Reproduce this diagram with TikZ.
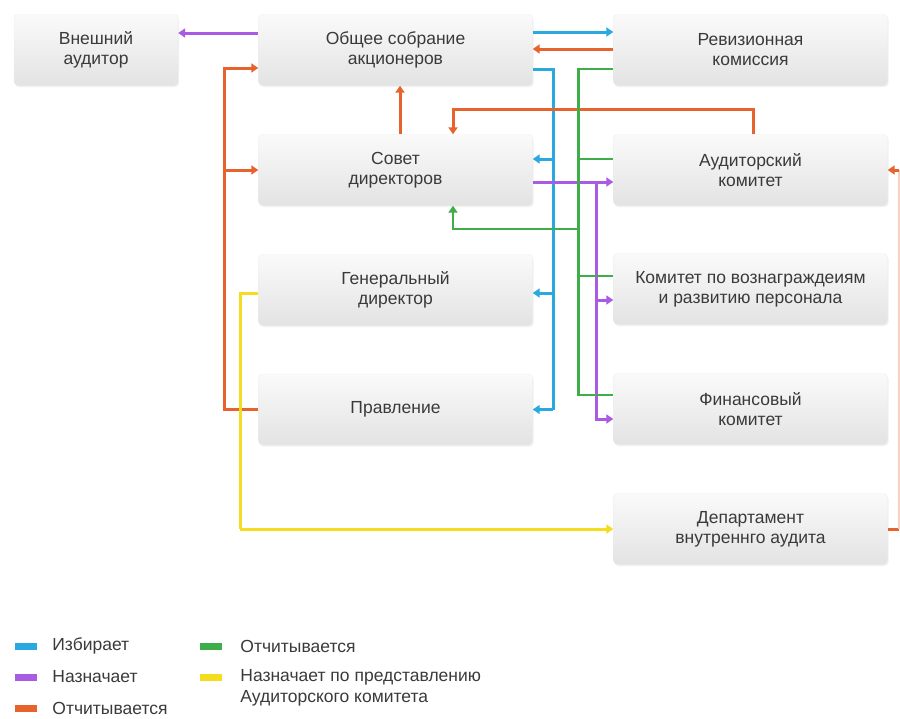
\documentclass[tikz,border=0pt]{standalone}
\usepackage{fontspec}
\setmainfont{Liberation Sans}
\usepackage{tikz}
\usetikzlibrary{arrows.meta,shadows,positioning}
\definecolor{textgray}{HTML}{3A3A3A}
\definecolor{linkblue}{HTML}{2AA9E0}
\definecolor{linkviolet}{HTML}{A95BE3}
\definecolor{linkorange}{HTML}{E8622E}
\definecolor{linkgreen}{HTML}{3DAE4A}
\definecolor{linkyellow}{HTML}{F4DC1E}

\begin{document}
\begin{tikzpicture}[x=1pt,y=-1pt,
        box/.style={rounded corners=4pt, draw=black!7, top color=black!2, bottom color=black!11,
                minimum width=274pt, minimum height=71pt, align=center, text=textgray,
                font=\fontsize{17.5}{20}\selectfont,
                drop shadow={opacity=0.12, shadow xshift=1pt, shadow yshift=-1.5pt}},
        link/.style={line width=3pt, -{Triangle[length=7pt,width=9pt]}},
        wire/.style={line width=3pt},
        thin link/.style={line width=2.4pt},
        swatch/.style={minimum width=22pt, minimum height=7pt, inner sep=0pt},
        legend/.style={inner sep=0pt, text=textgray, align=left, font=\fontsize{17.5}{21}\selectfont}]
        \useasboundingbox (0,0) rectangle (900,718);

        \node (EA) [box, minimum width=164pt] at (96,50) {Внешний\\аудитор};
        \node (GM) [box] at (395.5,50) {Общее собрание\\акционеров};
        \node (RK) [box] at (750.5,50) {Ревизионная\\комиссия};
        \node (SD) [box] at (395.5,170) {Совет\\директоров};
        \node (AK) [box] at (750.5,170) {Аудиторский\\комитет};
        \node (GD) [box] at (395.5,290) {Генеральный\\директор};
        \node (KV) [box] at (750.5,289) {Комитет по вознаграждеиям\\и развитию персонала};
        \node (PR) [box] at (395.5,409.5) {Правление};
        \node (FK) [box] at (750.5,409) {Финансовый\\комитет};
        \node (DA) [box] at (750.5,529) {Департамент\\внутреннго аудита};

        % bus lines
        \coordinate (busB) at (553,0);
        \coordinate (busL) at (225,0);
        \coordinate (busY) at (240,0);
        \coordinate (busR) at (899,0);

        % Избирает
        \draw [link, linkblue] ([yshift=18pt]GM.east) -- ([yshift=18pt]RK.west);
        \draw [wire, linkblue] ([yshift=-19pt]GM.east) -| (busB |- PR.east);
        \draw [link, linkblue] (busB |- PR.east) -- (PR.east);
        \draw [link, linkblue] ([xshift=21pt,yshift=11pt]SD.east) -- ([yshift=11pt]SD.east);
        \draw [link, linkblue] ([xshift=21pt,yshift=-3pt]GD.east) -- ([yshift=-3pt]GD.east);

        % Назначает
        \draw [link, linkviolet] ([yshift=17pt]GM.west) -- ([yshift=17pt]EA.east);
        \draw [link, linkviolet] ([yshift=-12pt]SD.east) -- ([yshift=-12pt]AK.west);
        \draw [wire, linkviolet] ([xshift=-17pt,yshift=-12pt]AK.west) -- ([xshift=-17pt,yshift=-10pt]FK.west);
        \draw [link, linkviolet] ([xshift=-18.5pt,yshift=-11pt]KV.west) -- ([yshift=-11pt]KV.west);
        \draw [link, linkviolet] ([xshift=-18.5pt,yshift=-10pt]FK.west) -- ([yshift=-10pt]FK.west);

        % Отчитывается
        \draw [link, linkorange] ([yshift=1pt]RK.west) -- ([yshift=1pt]GM.east);
        \draw [link, linkorange] ([xshift=4.5pt]SD.north) -- ([xshift=4.5pt]GM.south);
        \draw [link, linkorange] ([xshift=2.5pt]AK.north) -- ++(0,-25) -| ([xshift=57.5pt]SD.north);
        \draw [wire, linkorange] (PR.west) -| ([xshift=-34pt,yshift=-18pt]GM.west);
        \draw [link, linkorange] ([xshift=-35.5pt,yshift=-18pt]GM.west) -- ([yshift=-18pt]GM.west);
        \draw [link, linkorange] (busL |- SD.west) -- (SD.west);
        \draw [wire, linkorange] (DA.east) -- (busR |- DA.east);
        \draw [wire, linkorange!30] (busR |- DA.east) -- (busR |- AK.east);
        \draw [link, linkorange] (busR |- AK.east) -- (AK.east);

        % Отчитывается (комитеты)
        \draw [thin link, linkgreen] ([yshift=-19pt]RK.west) -| ([xshift=-35pt,yshift=14pt]FK.west) -- ([yshift=14pt]FK.west);
        \draw [thin link, linkgreen] ([yshift=11pt]AK.west) -- ++(-35,0);
        \draw [thin link, linkgreen] ([yshift=13pt]KV.west) -- ++(-35,0);
        \draw [thin link, linkgreen, -{Triangle[length=7pt,width=9pt]}] ([xshift=-35pt,yshift=-23.5pt]AK.south west) -| ([xshift=57.5pt]SD.south);

        % Назначает по представлению
        \draw [wire, linkyellow] ([yshift=-3pt]GD.west) -| (busY |- DA.west);
        \draw [link, linkyellow] (busY |- DA.west) -- (DA.west);

        % legend
        \node (SB) [swatch, fill=linkblue] at (26,646) {};
        \node (SV) [swatch, fill=linkviolet] at (26,677) {};
        \node (SO) [swatch, fill=linkorange] at (26,708) {};
        \node (SG) [swatch, fill=linkgreen] at (211,646) {};
        \node (SY) [swatch, fill=linkyellow] at (211,677) {};
        \node [legend, right=15pt of SB] {Избирает};
        \node [legend, right=15pt of SV] {Назначает};
        \node [legend, right=15pt of SO] {Отчитывается};
        \node [legend, right=18pt of SG] {Отчитывается};
        \node [legend, right=18pt of SY, anchor=north west, yshift=7.5pt] {Назначает по представлению\\Аудиторского комитета};
\end{tikzpicture}
\end{document}
